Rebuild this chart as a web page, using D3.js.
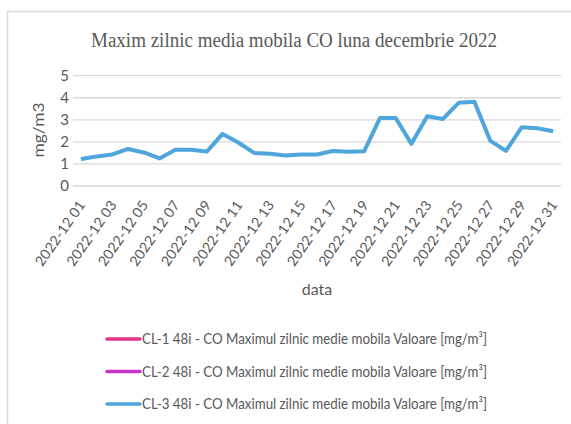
<!DOCTYPE html>
<html>
<head>
<meta charset="utf-8">
<script src="https://cdn.jsdelivr.net/npm/d3@7"></script>
<style>
  body { margin: 0; background: #fff; }
  svg { display: block; }
</style>
</head>
<body>
<div id="chart"></div>
<script>
// Values
const days = [
  "2022-12 01", "2022-12 02", "2022-12 03", "2022-12 04", "2022-12 05", "2022-12 06",
  "2022-12 07", "2022-12 08", "2022-12 09", "2022-12 10", "2022-12 11", "2022-12 12",
  "2022-12 13", "2022-12 14", "2022-12 15", "2022-12 16", "2022-12 17", "2022-12 18",
  "2022-12 19", "2022-12 20", "2022-12 21", "2022-12 22", "2022-12 23", "2022-12 24",
  "2022-12 25", "2022-12 26", "2022-12 27", "2022-12 28", "2022-12 29", "2022-12 30",
  "2022-12 31"
];
const cl3Values = [
  1.22, 1.34, 1.43, 1.68, 1.52, 1.25, 1.64, 1.64, 1.56, 2.36, 1.97, 1.50,
  1.46, 1.38, 1.43, 1.43, 1.59, 1.55, 1.58, 3.08, 3.08, 1.91, 3.16, 3.04,
  3.77, 3.82, 2.06, 1.59, 2.66, 2.62, 2.48
];
const seriesNames = [
  "CL-1 48i - CO Maximul zilnic medie mobila Valoare [mg/m³]",
  "CL-2 48i - CO Maximul zilnic medie mobila Valoare [mg/m³]",
  "CL-3 48i - CO Maximul zilnic medie mobila Valoare [mg/m³]"
];
const seriesColors = ["#e6318b", "#c935c9", "#4fa6dc"];
const yTicks = [0, 1, 2, 3, 4, 5];

const W = 571, H = 424;
const plot = { left: 73, right: 561, top: 75.7, bottom: 186 };
const textGray = "#595959";
const labelFont = "Lato, 'Open Sans', sans-serif";

const svg = d3.select("#chart").append("svg")
  .attr("width", W)
  .attr("height", H);

// chart frame (only left + top visible in the crop)
svg.append("path")
  .attr("d", `M7.5,${H} L7.5,11.5 L${W},11.5`)
  .attr("fill", "none")
  .attr("stroke", "#d9d9d9")
  .attr("stroke-width", 1.5);

// Scales
const x = d3.scaleBand()
  .domain(days)
  .range([plot.left, plot.right]);

const y = d3.scaleLinear()
  .domain([0, 5])
  .range([plot.bottom, plot.top]);

// Gridlines
svg.append("g")
  .selectAll("line")
  .data(yTicks)
  .join("line")
  .attr("x1", plot.left)
  .attr("x2", plot.right)
  .attr("y1", d => y(d))
  .attr("y2", d => y(d))
  .attr("stroke", "#d9d9d9")
  .attr("stroke-width", 1.3);

// Y axis labels
const yAxis = svg.append("g")
  .attr("transform", `translate(${plot.left - 4},0)`)
  .call(d3.axisLeft(y).tickValues(yTicks).tickFormat(d3.format("d")).tickSize(0).tickPadding(0));
yAxis.select(".domain").remove();
yAxis.selectAll("text")
  .attr("fill", textGray)
  .style("font-family", labelFont)
  .style("font-size", "15px");

// X axis labels (every second day), rotated
const xAxis = svg.append("g")
  .attr("transform", `translate(0,${plot.bottom})`)
  .call(d3.axisBottom(x)
    .tickValues(days.filter((d, i) => i % 2 === 0))
    .tickSize(0));
xAxis.select(".domain").remove();
xAxis.selectAll("text")
  .attr("fill", textGray)
  .style("font-family", labelFont)
  .style("font-size", "14px")
  .attr("text-anchor", "end")
  .attr("y", 0)
  .attr("dy", 0)
  .attr("textLength", 76)
  .attr("lengthAdjust", "spacingAndGlyphs")
  .attr("transform", "translate(5,19) rotate(-55)");

// Title
svg.append("text")
  .attr("x", 294)
  .attr("y", 47)
  .attr("text-anchor", "middle")
  .attr("fill", textGray)
  .attr("textLength", 406)
  .attr("lengthAdjust", "spacingAndGlyphs")
  .style("font-family", "'Liberation Serif', serif")
  .style("font-size", "20.5px")
  .text("Maxim zilnic media mobila CO luna decembrie 2022");

// Axis titles
svg.append("text")
  .attr("transform", `translate(44,130) rotate(-90)`)
  .attr("text-anchor", "middle")
  .attr("fill", textGray)
  .attr("textLength", 55)
  .attr("lengthAdjust", "spacingAndGlyphs")
  .style("font-family", labelFont)
  .style("font-size", "16px")
  .text("mg/m3");

svg.append("text")
  .attr("x", (plot.left + plot.right) / 2)
  .attr("y", 295)
  .attr("text-anchor", "middle")
  .attr("fill", textGray)
  .style("font-family", labelFont)
  .style("font-size", "16px")
  .text("data");

// The line (only CL-3 has values)
const line = d3.line()
  .x((d, i) => x(days[i]) + x.bandwidth() / 2)
  .y(d => y(d));

svg.append("path")
  .datum(cl3Values)
  .attr("d", line)
  .attr("fill", "none")
  .attr("stroke", seriesColors[2])
  .attr("stroke-width", 4)
  .attr("stroke-linejoin", "round");

// Legend
const legend = svg.append("g")
  .selectAll("g")
  .data(seriesNames)
  .join("g")
  .attr("transform", (d, i) => `translate(107,${339 + i * 32.5})`);

legend.append("line")
  .attr("x1", 0)
  .attr("x2", 33)
  .attr("stroke", (d, i) => seriesColors[i])
  .attr("stroke-width", 3.5)
  .attr("stroke-linecap", "round");

legend.append("text")
  .attr("x", 35)
  .attr("y", 5)
  .attr("fill", textGray)
  .attr("textLength", 345)
  .attr("lengthAdjust", "spacingAndGlyphs")
  .style("font-family", labelFont)
  .style("font-size", "14.5px")
  .text(d => d);
</script>
</body>
</html>
